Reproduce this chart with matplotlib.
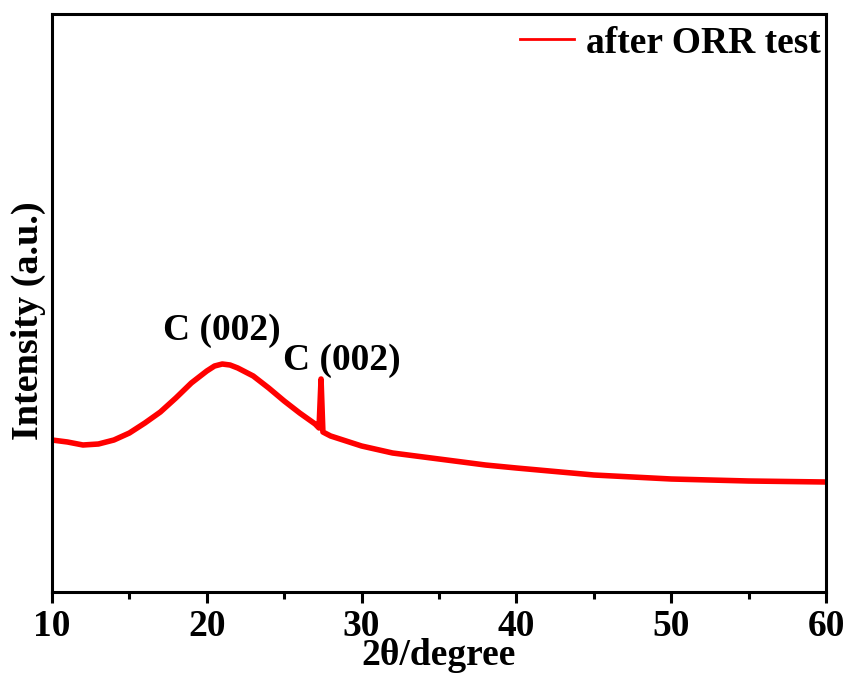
import matplotlib
matplotlib.use("Agg")
import matplotlib.pyplot as plt
from matplotlib.ticker import MultipleLocator

plt.rcParams['font.family'] = ['Liberation Serif', 'DejaVu Serif']
plt.rcParams['font.weight'] = 'bold'

# Data (2theta in degrees, intensity in arbitrary units)
two_theta = [10, 11, 12, 13, 14, 15, 16, 17, 18, 19, 20, 20.5, 21, 21.5, 22, 23, 24, 25, 26, 27,
             27.25, 27.38, 27.5, 28, 29, 30, 32, 35, 38, 40, 45, 50, 55, 60]
intensity = [152, 150, 147, 148, 152, 159, 169, 180, 194, 209, 221, 226, 228, 227, 224, 216, 204,
             191, 179, 168, 164, 213, 160, 156, 151, 146, 139, 133, 127, 124, 117, 113, 111, 110]
series_label = "after ORR test"
peak_labels = ["C (002)", "C (002)"]
peak_pos = [(17.15, 252), (24.95, 222)]

fig = plt.figure(figsize=(8.49, 6.77), dpi=100)
ax = fig.add_axes([52/849, 1-592/677, (826-52)/849, (592-14)/677])
ax.plot(two_theta, intensity, color='#ff0000', lw=4.0, label=series_label,
        solid_joinstyle='round')

ax.set_xlim(10, 60)
ax.set_ylim(0, 578)
ax.xaxis.set_major_locator(MultipleLocator(10))
ax.xaxis.set_minor_locator(MultipleLocator(5))
ax.set_yticks([])
for s in ax.spines.values():
    s.set_linewidth(2.2)
ax.tick_params(axis='x', which='major', direction='out', length=8, width=2.2, labelsize=27, pad=4)
ax.tick_params(axis='x', which='minor', direction='out', length=5, width=2.2)
for lab in ax.get_xticklabels():
    lab.set_fontweight('bold')

ax.set_xlabel("2θ/degree", fontsize=27, fontweight='bold', labelpad=-4)
ax.set_ylabel("Intensity (a.u.)", fontsize=27.5, fontweight='bold')
ax.yaxis.set_label_coords(-0.008, 0.47)

for txt, (x, y) in zip(peak_labels, peak_pos):
    ax.text(x, y, txt, fontsize=27, fontweight='bold', ha='left', va='baseline')

leg = ax.legend(loc='upper right', frameon=False, handlelength=1.45,
                handletextpad=0.3, borderaxespad=0.0, bbox_to_anchor=(1.012, 1.006),
                prop={'weight': 'bold', 'size': 27})
for l in leg.get_lines():
    l.set_linewidth(2)

fig.savefig("out.png", dpi=100)
